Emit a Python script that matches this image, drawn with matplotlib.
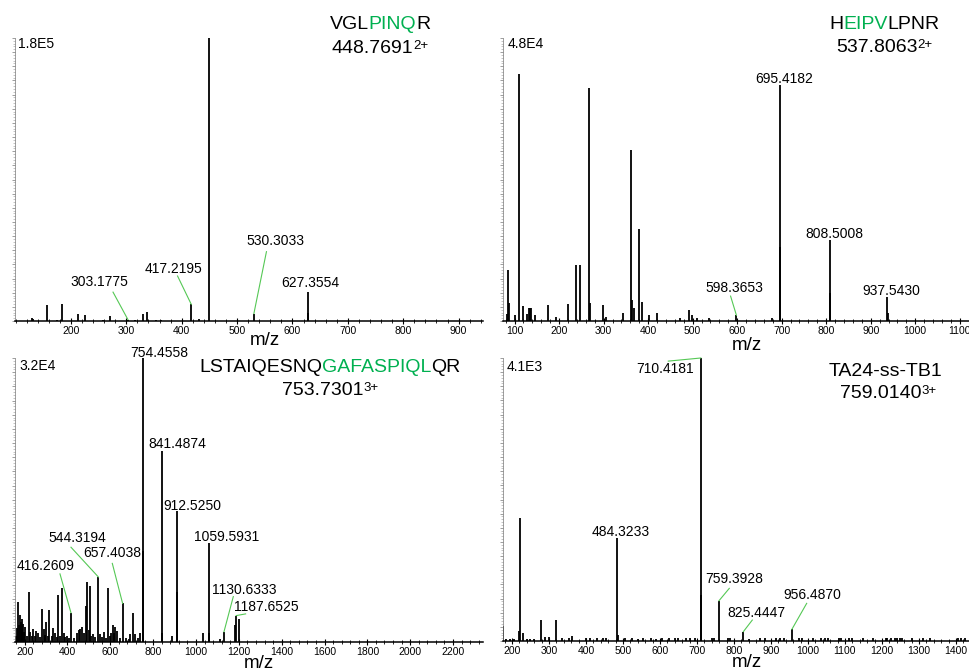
import matplotlib
matplotlib.use("Agg")
import matplotlib.pyplot as plt
from matplotlib.ticker import MultipleLocator, FixedLocator, NullFormatter
from matplotlib.offsetbox import TextArea, HPacker, AnchoredOffsetbox
import numpy as np

plt.rcParams['font.family'] = ['Liberation Sans', 'DejaVu Sans']

# ---------------- DATA ----------------
# Panel 1: VGLPINQR 448.7691 2+
p1_mz = [129, 131, 157.5, 175, 184, 212, 225, 257, 270.7, 303.18, 315, 330.6, 336.6,
         354, 362, 417.22, 430.7, 448.77, 530.30, 627.36, 628.4]
p1_int = [0.012, 0.006, 0.056, 0.005, 0.059, 0.025, 0.020, 0.005, 0.018, 0.004, 0.003, 0.024, 0.032,
          0.004, 0.003, 0.059, 0.008, 1.000, 0.026, 0.102, 0.030]
p1_ann = [303.1775, 417.2195, 530.3033, 627.3554]
p1_max = "1.8E5"
p1_seq = [("VGL", "k"), ("PINQ", "g"), ("R", "k")]
p1_prec = ("448.7691", "2+")

# Panel 2: HEIPVLPNR 537.8063 2+
p2_mz = [83, 85, 87.5, 101.7, 110.07, 118, 128, 131.7, 134.7, 137.7, 146.3, 174.4, 193.9, 220.2,
         238.2, 247.9, 267.1, 268.9, 298.9, 304.9, 343.9, 361.9, 363.3, 368.6, 380.2, 385.8,
         402.3, 418.8, 472, 490.8, 499, 508.7, 537.2, 598.37, 678, 695.42, 696.4, 808.50,
         809.5, 937.54, 938.5]
p2_int = [0.025, 0.180, 0.062, 0.021, 0.872, 0.053, 0.025, 0.045, 0.045, 0.045, 0.022, 0.056, 0.015, 0.059,
          0.198, 0.198, 0.824, 0.065, 0.056, 0.015, 0.030, 0.606, 0.075, 0.045, 0.324, 0.066,
          0.020, 0.030, 0.012, 0.038, 0.022, 0.010, 0.012, 0.020, 0.012, 0.835, 0.260, 0.286,
          0.100, 0.086, 0.030]
p2_ann = [598.3653, 695.4182, 808.5008, 937.5430]
p2_max = "4.8E4"
p2_seq = [("H", "k"), ("EIPV", "g"), ("LPNR", "k")]
p2_prec = ("537.8063", "2+")

# Panel 3: LSTAIQESNQGAFASPIQLQR 753.7301 3+
p3_mz = [162, 166, 170.6, 174, 178, 182, 186, 190, 194, 198, 202, 210, 219.5, 226, 233, 241, 248,
         255, 263, 270, 283, 291, 296, 302, 309, 316, 326, 333, 340, 350, 357, 366, 376, 382, 390,
         398, 405, 416.26, 430, 445, 453, 460, 469, 478, 486, 492, 499, 505, 512, 520, 530,
         544.32, 552, 560, 570, 580, 588, 597, 604, 611, 618, 624, 633, 645, 657.40, 672, 685,
         694, 708, 716, 728, 740, 751, 754.46, 841.49, 843, 890, 912.53, 913.5, 1035, 1059.59,
         1060.6, 1110, 1130.63, 1183, 1187.65, 1202]
p3_int = [0.020, 0.050, 0.139, 0.060, 0.095, 0.070, 0.080, 0.040, 0.062, 0.035, 0.053, 0.020, 0.176, 0.033,
          0.020, 0.045, 0.020, 0.039, 0.030, 0.015, 0.115, 0.045, 0.025, 0.070, 0.020, 0.112, 0.020,
          0.050, 0.030, 0.015, 0.165, 0.020, 0.188, 0.030, 0.015, 0.020, 0.012, 0.102, 0.012, 0.030,
          0.040, 0.045, 0.053, 0.030, 0.127, 0.209, 0.040, 0.196, 0.020, 0.027, 0.015, 0.228, 0.027,
          0.015, 0.033, 0.012, 0.190, 0.020, 0.030, 0.060, 0.030, 0.053, 0.039, 0.012, 0.135, 0.012,
          0.010, 0.027, 0.100, 0.027, 0.012, 0.030, 0.320, 1.000, 0.673, 0.030, 0.020, 0.459, 0.176,
          0.030, 0.349, 0.030, 0.010, 0.035, 0.060, 0.092, 0.080]
p3_ann = [416.2609, 544.3194, 657.4038, 754.4558, 841.4874, 912.5250, 1059.5931, 1130.6333, 1187.6525]
p3_max = "3.2E4"
p3_seq = [("LSTAIQESNQ", "k"), ("GAFASPIQL", "g"), ("QR", "k")]
p3_prec = ("753.7301", "3+")

# Panel 4: TA24-ss-TB1 759.0140 3+
p4_mz = [176.6, 185, 195, 205, 218, 221.6, 228.8, 240, 250, 260, 277.4, 290, 299, 317.8, 335, 355,
         362.8, 400, 410, 430, 445, 455, 484.32, 486, 505, 525, 540, 555, 575, 590, 605, 625,
         640, 648, 670, 680, 695, 710.42, 711.5, 740, 745, 759.39, 785, 790, 825.44, 840, 870,
         885, 915, 925, 935, 956.49, 975, 985, 1015, 1035, 1045, 1055, 1085, 1090, 1110, 1120,
         1150, 1175, 1210, 1215, 1225, 1235, 1240, 1250, 1255, 1280, 1310, 1330, 1405, 1415, 1425]
p4_int = [0.053, 0.008, 0.007, 0.008, 0.035, 0.434, 0.027, 0.008, 0.007, 0.006, 0.073, 0.015, 0.015, 0.073,
          0.010, 0.012, 0.018, 0.012, 0.010, 0.010, 0.010, 0.010, 0.363, 0.020, 0.010, 0.010, 0.008,
          0.010, 0.010, 0.008, 0.010, 0.010, 0.012, 0.012, 0.010, 0.010, 0.010, 1.000, 0.163, 0.010,
          0.010, 0.142, 0.010, 0.010, 0.033, 0.008, 0.010, 0.010, 0.010, 0.010, 0.010, 0.041, 0.010,
          0.012, 0.010, 0.010, 0.010, 0.012, 0.012, 0.012, 0.010, 0.012, 0.010, 0.012, 0.012, 0.012,
          0.012, 0.012, 0.012, 0.012, 0.010, 0.010, 0.012, 0.012, 0.010, 0.010, 0.010]
p4_ann = [484.3233, 710.4181, 759.3928, 825.4447, 956.4870]
p4_max = "4.1E3"
p4_seq = [("TA24-ss-TB1", "k")]
p4_prec = ("759.0140", "3+")

# ---------------- LAYOUT / STYLE ----------------
W, H = 970, 671
GREEN = '#00b050'
LEAD = '#55c855'
TITLE_FS = 14
SUP_FS = 9.5
LAB_FS = 10
TICK_FS = 7.5
XLAB_FS = 13.5

panels = [
    dict(mz=p1_mz, it=p1_int, ann=p1_ann, mx=p1_max, seq=p1_seq, prec=p1_prec,
         rect=(15, 38, 483, 321), xlim=(99, 944), minor=20, ticks=range(200, 1000, 100),
         xlab=(0.534, -0.068), t1=(0.780, 1.046), t2=(0.779, 0.963), mxpos=(0.007, 0.979),
         annpos=[((250.5, 0.138), (276, 0.102)), ((385.8, 0.184), (392.5, 0.159)),
                 ((569.9, 0.283), (553, 0.245)), ((633, 0.134), None)]),
    dict(mz=p2_mz, it=p2_int, ann=p2_ann, mx=p2_max, seq=p2_seq, prec=p2_prec,
         rect=(503, 38, 970, 321), xlim=(74, 1123), minor=20, ticks=range(100, 1200, 100),
         xlab=(0.522, -0.088), t1=(0.817, 1.046), t2=(0.816, 0.968), mxpos=(0.009, 0.979),
         annpos=[((592.8, 0.1155), (585.2, 0.088)), ((706, 0.856), None),
                 ((818.3, 0.306), None), ((946.5, 0.106), None)]),
    dict(mz=p3_mz, it=p3_int, ann=p3_ann, mx=p3_max, seq=p3_seq, prec=p3_prec,
         rect=(15, 358, 483, 641.7), xlim=(155, 2340), minor=40, ticks=range(200, 2400, 200),
         xlab=(0.522, -0.076), t1=(0.673, 0.968), t2=(0.673, 0.887), mxpos=(0.009, 0.972),
         annpos=[((296.5, 0.267), (365, 0.239)), ((445.9, 0.367), (416.4, 0.333)),
                 ((609.3, 0.314), (609.3, 0.276)), ((828.7, 1.019), None),
                 ((914.5, 0.696), None), ((984.6, 0.479), None), ((1144.9, 0.370), None),
                 ((1225.6, 0.183), (1174.2, 0.159)), ((1330, 0.123), (1231.7, 0.098))]),
    dict(mz=p4_mz, it=p4_int, ann=p4_ann, mx=p4_max, seq=p4_seq, prec=p4_prec,
         rect=(502.7, 358, 970, 641), xlim=(175, 1438), minor=20, ticks=range(200, 1500, 100),
         xlab=(0.522, -0.076), t1=(0.820, 0.953), t2=(0.825, 0.873), mxpos=(0.009, 0.969),
         annpos=[((494.7, 0.384), None), ((612.8, 0.960), (622.6, 0.989)),
                 ((800.9, 0.218), (787.4, 0.186)), ((861.5, 0.100), (849.6, 0.074)),
                 ((1011.8, 0.1625), (996.6, 0.133))]),
]

fig = plt.figure(figsize=(W / 100, H / 100), dpi=100)


def rich_line(ax, parts, pos):
    boxes = [TextArea(t, textprops=dict(color=c, fontsize=s, family='Liberation Sans'))
             for t, c, s in parts]
    pack = HPacker(children=boxes, align='top', pad=0, sep=0)
    ab = AnchoredOffsetbox(loc='center', child=pack, pad=0, borderpad=0, frameon=False,
                           bbox_to_anchor=pos, bbox_transform=ax.transAxes)
    fig.add_artist(ab)


for p in panels:
    l, t, r, b = p['rect']
    ax = fig.add_axes([l / W, 1 - b / H, (r - l) / W, (b - t) / H])
    mz = np.array(p['mz'])
    it = np.array(p['it'])
    ax.vlines(mz, 0, it, color='black', lw=1.3)
    ax.set_xlim(*p['xlim'])
    ax.set_ylim(0, 1)

    for s in ('top', 'right'):
        ax.spines[s].set_visible(False)
    ax.spines['bottom'].set_linewidth(1.1)
    ax.spines['left'].set_linewidth(0.5)
    ax.spines['left'].set_color('#777777')

    ax.xaxis.set_major_locator(FixedLocator(list(p['ticks'])))
    ax.xaxis.set_minor_locator(MultipleLocator(p['minor']))
    ax.tick_params(axis='x', which='major', direction='inout', length=4.5, width=0.8, pad=1.5,
                   labelsize=TICK_FS)
    ax.tick_params(axis='x', which='minor', direction='inout', length=2.5, width=0.6)
    ax.yaxis.set_major_locator(MultipleLocator(0.05))
    ax.yaxis.set_minor_locator(MultipleLocator(0.01))
    ax.yaxis.set_major_formatter(NullFormatter())
    ax.tick_params(axis='y', which='major', direction='out', length=2.2, width=0.5, colors='#777777')
    ax.tick_params(axis='y', which='minor', direction='out', length=1.5, width=0.4, colors='#999999')

    ax.set_xlabel('m/z', fontsize=XLAB_FS)
    ax.xaxis.set_label_coords(*p['xlab'])
    ax.xaxis.label.set_va('center')

    ax.text(p['mxpos'][0], p['mxpos'][1], p['mx'], transform=ax.transAxes, ha='left',
            va='center', fontsize=10)

    # annotations
    for m, ((tx, ty), lead) in zip(p['ann'], p['annpos']):
        ax.text(tx, ty, f"{m:.4f}", ha='center', va='center', fontsize=LAB_FS, clip_on=False)
        if lead is not None:
            k = int(np.argmin(np.abs(mz - m)))
            ax.plot([lead[0], mz[k]], [lead[1], it[k]], color=LEAD, lw=0.8, clip_on=False)

    # titles
    seq_parts = [(txt, GREEN if c == 'g' else 'black', TITLE_FS) for txt, c in p['seq']]
    rich_line(ax, seq_parts, p['t1'])
    rich_line(ax, [(p['prec'][0], 'black', TITLE_FS), (p['prec'][1], 'black', SUP_FS)], p['t2'])

fig.savefig('out.png', dpi=100)
